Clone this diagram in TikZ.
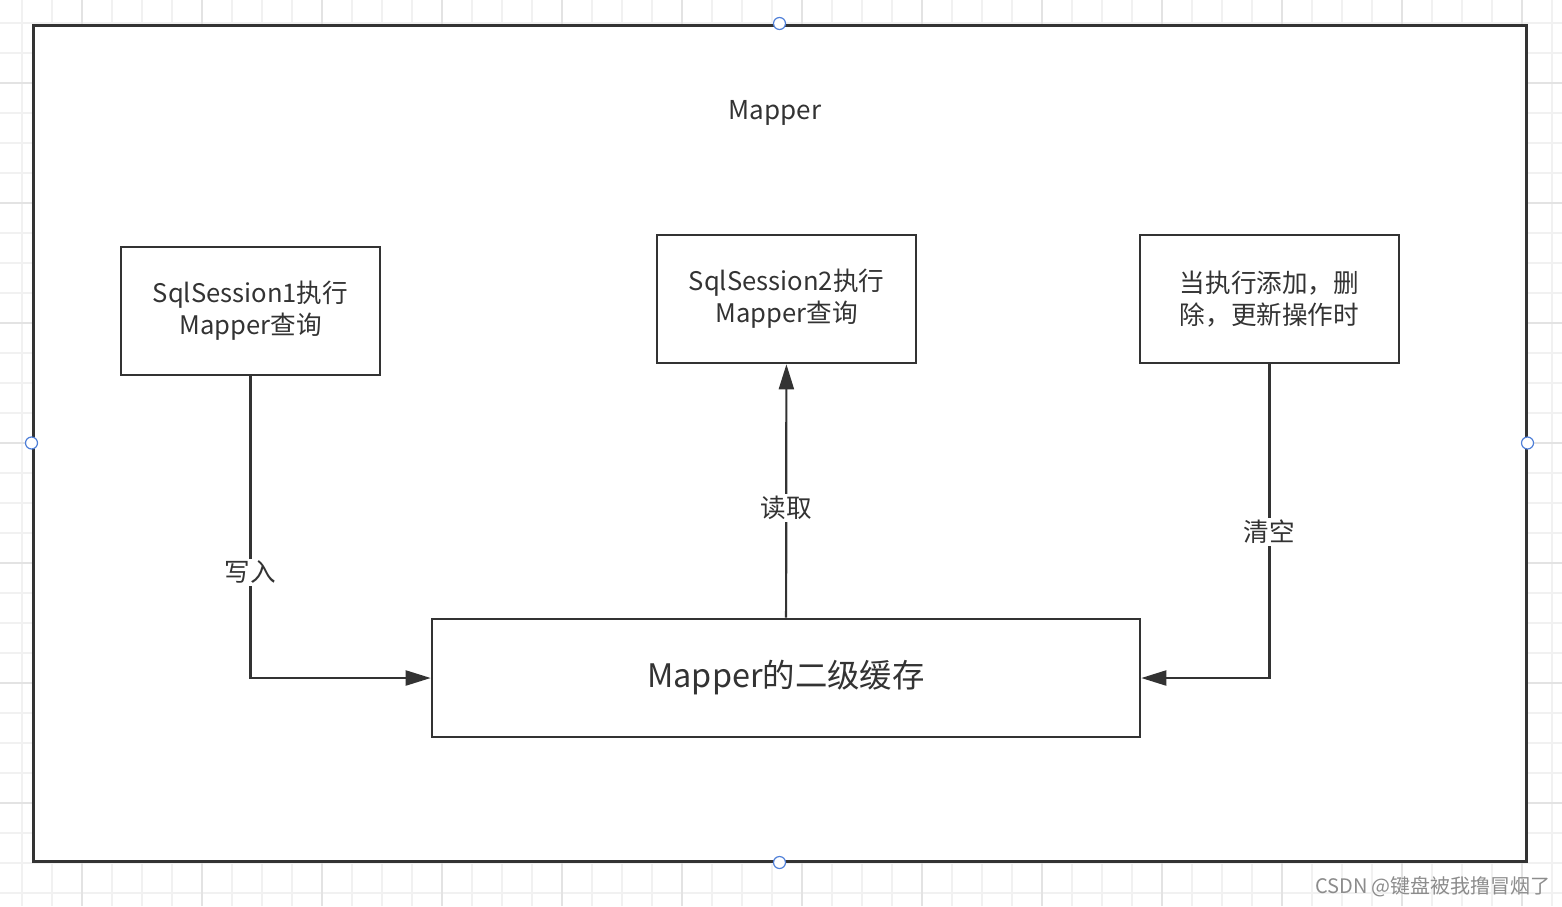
\documentclass[tikz,border=0pt]{standalone}
\usepackage{fontspec}
\setmainfont{Noto Sans CJK SC}
\usepackage{tikz}
\usetikzlibrary{arrows.meta,positioning}
\definecolor{ink}{HTML}{333333}
\definecolor{gridminor}{HTML}{F1F1F1}
\definecolor{gridmajor}{HTML}{E3E3E3}
\definecolor{handle}{HTML}{4F7FD8}

\begin{document}
\begin{tikzpicture}[
  x=0.5pt, y=-0.5pt,
  box/.style={draw=ink,line width=1.3pt,fill=white,align=center,text=ink,
    minimum width=129.5pt,minimum height=64pt,inner sep=0pt,
    font=\fontsize{12.8}{16}\selectfont},
  arr/.style={-{Triangle[length=12.5pt,width=7.5pt]},draw=ink,line width=1.1pt},
  lbl/.style={fill=white,text=ink,inner sep=1pt,font=\fontsize{12.8}{15}\selectfont},
  knob/.style={circle,draw=handle,fill=white,line width=0.6pt,minimum size=6pt,inner sep=0pt}
]
\useasboundingbox (0,0) rectangle (1562,906);
\fill[white] (0,0) rectangle (1562,906);
% grid
\foreach \gx in {22,52,...,1552} \draw[gridminor,line width=0.6pt] (\gx,0) -- (\gx,906);
\foreach \gy in {23,53,...,893} \draw[gridminor,line width=0.6pt] (0,\gy) -- (1562,\gy);
\foreach \gx in {82,202,...,1522} \draw[gridmajor,line width=0.7pt] (\gx,0) -- (\gx,906);
\foreach \gy in {83,203,...,803} \draw[gridmajor,line width=0.7pt] (0,\gy) -- (1562,\gy);

% outer frame
\node[draw=ink,line width=1.5pt,fill=white,minimum width=746.5pt,minimum height=418pt,inner sep=0pt]
  (frame) at (779.5,443) {};
\node[text=ink,font=\fontsize{13}{16}\selectfont] (title) at (775,113) {Mapper};

\node[box] (s1) at (250.5,311) {SqlSession1执行\\Mapper查询};
\node[box] (s2) at (786.5,299) {SqlSession2执行\\Mapper查询};
\node[box] (upd) at (1269.5,299) {当执行添加，删\\除，更新操作时};
\node[box,minimum width=354pt,minimum height=59pt,font=\fontsize{16.2}{19}\selectfont]
  (cache) at (786,678) {Mapper的二级缓存};

\draw[arr] (s1) |- node[lbl,pos=0.325] {写入} (cache);
\draw[arr] (cache) -- node[lbl,pos=0.434] {读取} (s2);
\draw[arr] (upd) |- node[lbl,pos=0.267] {清空} (cache);

% selection handles
\node[knob] (hn) at (frame.north) {};
\node[knob] (hs) at (frame.south) {};
\node[knob] (hw) at (frame.west) {};
\node[knob] (he) at (frame.east) {};

\node[text=black!45,font=\fontsize{10}{12}\selectfont] (mark) at (1433,887) {CSDN @键盘被我撸冒烟了};
\end{tikzpicture}
\end{document}
